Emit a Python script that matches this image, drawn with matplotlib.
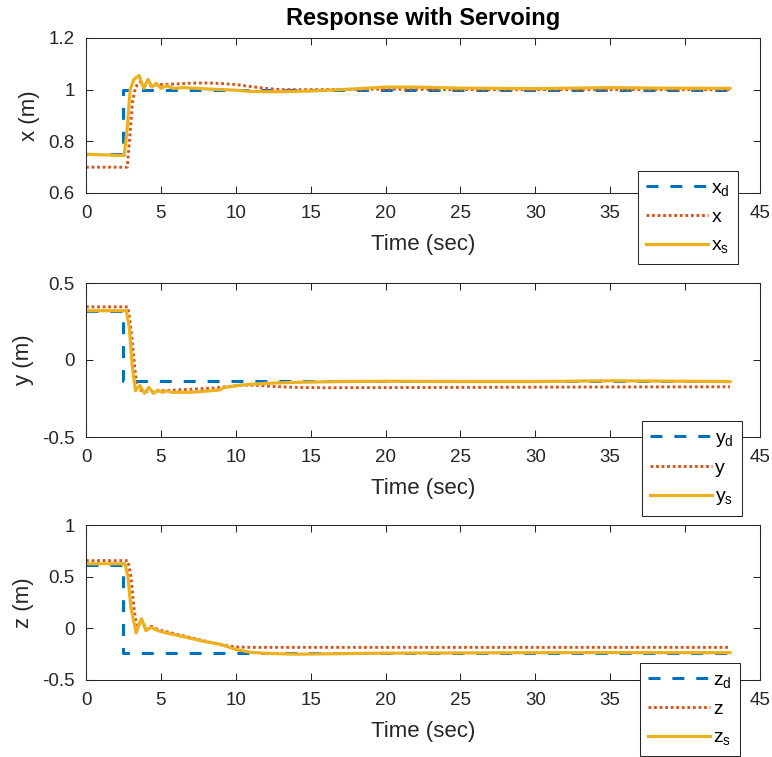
import matplotlib
matplotlib.use('Agg')
import matplotlib.pyplot as plt

plt.rcParams['font.family'] = ['Liberation Sans', 'DejaVu Sans']
plt.rcParams['mathtext.default'] = 'regular'
plt.rcParams['axes.unicode_minus'] = False
plt.rcParams['lines.scale_dashes'] = False

# colours of the default line order
c_des = '#0072BD'
c_act = '#D95319'
c_srv = '#EDB120'
c_axis = '#262626'

# ---- x position ----
t_xd = [0, 2.5, 2.5, 43]
xd = [0.75, 0.75, 1.0, 1.0]

t_x = [0, 2.75, 2.9, 3.1, 3.3, 3.6, 4.0, 5, 6, 7, 8, 9, 10, 11, 12, 13, 15, 20, 25, 30, 35, 43]
x = [0.70, 0.70, 0.80, 0.95, 1.01, 1.03, 1.015, 1.02, 1.022, 1.025, 1.026, 1.024,
     1.02, 1.012, 1.005, 1.0, 1.0, 1.002, 1.0, 1.0, 1.0, 1.0]

t_xs = [0, 2.55, 2.75, 2.95, 3.2, 3.55, 3.85, 4.15, 4.4, 4.7, 5.0, 5.4, 5.8, 6.5, 8, 10,
        11, 12, 13, 14, 15, 17, 20, 22, 25, 30, 35, 38, 43]
xs = [0.75, 0.745, 0.85, 1.0, 1.04, 1.055, 1.005, 1.04, 1.01, 1.025, 1.005, 1.015, 1.005,
      1.008, 1.003, 0.998, 0.993, 0.992, 0.992, 0.993, 0.995, 1.0, 1.01, 1.01, 1.006,
      1.004, 1.008, 1.006, 1.005]

# ---- y position ----
t_yd = [0, 2.5, 2.5, 43]
yd = [0.32, 0.32, -0.135, -0.135]

t_y = [0, 2.8, 3.0, 3.4, 4.0, 5.0, 7.0, 8.5, 9.5, 10.5, 11.5, 12.5, 14, 16, 25, 35, 43]
y = [0.345, 0.345, 0.2, -0.19, -0.205, -0.2, -0.19, -0.182, -0.172, -0.163, -0.165,
     -0.172, -0.178, -0.18, -0.178, -0.175, -0.174]

t_ys = [0, 2.7, 2.9, 3.1, 3.3, 3.6, 3.9, 4.2, 4.5, 4.8, 5.1, 5.4, 5.7, 7.0, 8.9, 9.2,
        10.3, 11.9, 14, 17, 20, 25, 30, 35, 43]
ys = [0.32, 0.32, 0.2, -0.05, -0.2, -0.165, -0.217, -0.178, -0.217, -0.196, -0.21,
      -0.2, -0.21, -0.21, -0.195, -0.18, -0.163, -0.152, -0.145, -0.14, -0.138, -0.14,
      -0.14, -0.135, -0.14]

# ---- z position ----
t_zd = [0, 2.5, 2.5, 43]
zd = [0.61, 0.61, -0.235, -0.235]

t_z = [0, 2.8, 3.0, 3.2, 3.4, 3.7, 4.0, 4.35, 4.7, 5.0, 6.0, 7.0, 8.0, 9.0, 10, 11, 43]
z = [0.655, 0.655, 0.5, 0.2, -0.01, 0.09, -0.01, 0.02, -0.005, -0.02, -0.055, -0.09,
     -0.125, -0.16, -0.18, -0.184, -0.184]

t_zs = [0, 2.6, 2.8, 3.0, 3.35, 3.5, 3.7, 3.85, 4.0, 4.35, 4.7, 5.0, 6.0, 7.0, 8.0, 8.9,
        9.3, 10, 11, 12, 14, 16, 18, 20, 25, 30, 35, 43]
zs = [0.625, 0.625, 0.5, 0.2, -0.045, 0.02, 0.09, 0.04, -0.023, 0.01, -0.016, -0.032,
      -0.065, -0.097, -0.13, -0.152, -0.17, -0.205, -0.232, -0.242, -0.25, -0.247,
      -0.243, -0.24, -0.238, -0.236, -0.235, -0.236]

panels = [
    (t_xd, xd, t_x, x, t_xs, xs, ['$x_d$', 'x', '$x_s$'], 'x (m)',
     [0.6, 0.8, 1.0, 1.2], ['0.6', '0.8', '1', '1.2']),
    (t_yd, yd, t_y, y, t_ys, ys, ['$y_d$', 'y', '$y_s$'], 'y (m)',
     [-0.5, 0, 0.5], ['-0.5', '0', '0.5']),
    (t_zd, zd, t_z, z, t_zs, zs, ['$z_d$', 'z', '$z_s$'], 'z (m)',
     [-0.5, 0, 0.5, 1.0], ['-0.5', '0', '0.5', '1']),
]

W, H = 772, 757
fig = plt.figure(figsize=(W / 100, H / 100), dpi=100)

# axes boxes in pixels: left, top, right, bottom
boxes = [(86, 38, 760, 193), (86, 283, 760, 437), (86, 525, 760, 680)]
# upper-left corners of the legends, in pixels
leg_pos = [(638, 171), (642, 421), (640, 663)]

for i, (td, vd, ta, va, ts, vs, labels, ylab, yt, ytl) in enumerate(panels):
    l, t, r, b = boxes[i]
    ax = fig.add_axes([l / W, 1 - b / H, (r - l) / W, (b - t) / H])
    ax.plot(td, vd, color=c_des, lw=2.2, dashes=(8.6, 8.6), label=labels[0])
    ax.plot(ta, va, color=c_act, lw=2.1, dashes=(2.0, 2.0), label=labels[1])
    ax.plot(ts, vs, color=c_srv, lw=2.3, label=labels[2])

    ax.set_xlim(0, 45)
    ax.set_ylim(yt[0], yt[-1])
    ax.set_xticks(range(0, 46, 5))
    ax.set_yticks(yt)
    ax.set_yticklabels(ytl)
    ax.tick_params(direction='in', top=True, right=True, length=5, width=0.75,
                   color=c_axis, labelcolor=c_axis, labelsize=13.5)
    ax.tick_params(axis='x', pad=8.5)
    ax.tick_params(axis='y', pad=8)
    for s in ax.spines.values():
        s.set_color(c_axis)
        s.set_linewidth(0.75)
    ax.set_xlabel('Time (sec)', fontsize=16, color=c_axis, labelpad=9)
    ax.set_ylabel(ylab, fontsize=16, color=c_axis, labelpad=6)
    if i == 0:
        ax.set_title('Response with Servoing', fontsize=17, fontweight='bold', pad=9)

    lx, ly = leg_pos[i]
    leg = ax.legend(loc='upper left', bbox_to_anchor=(lx / W, 1 - ly / H),
                    bbox_transform=fig.transFigure, borderaxespad=0, fontsize=14,
                    handlelength=3.2, handletextpad=0.15, labelspacing=0.55,
                    borderpad=0.42, fancybox=False, framealpha=1)
    leg.get_frame().set_edgecolor(c_axis)
    leg.get_frame().set_linewidth(0.75)

fig.savefig('out.png', dpi=100)
